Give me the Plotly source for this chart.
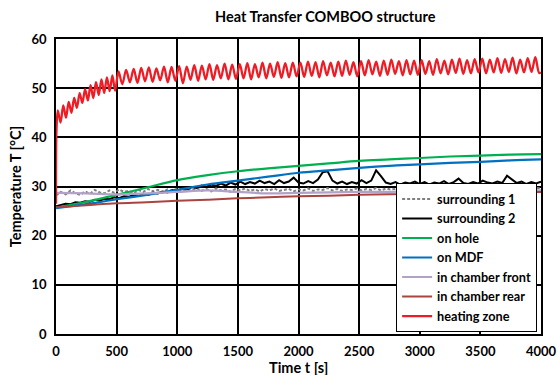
import numpy as np
import plotly.graph_objects as go

# ---------------- data ----------------
# smooth series sampled every 250 s
t_smooth = [0, 250, 500, 750, 1000, 1250, 1500, 1750, 2000, 2250, 2500, 2750, 3000, 3250, 3500, 3750, 4000]
on_hole = [25.7, 26.9, 28.3, 29.8, 31.3, 32.3, 33.1, 33.7, 34.2, 34.7, 35.2, 35.5, 35.8, 36.1, 36.3, 36.5, 36.6]
on_mdf = [25.6, 26.4, 27.4, 28.3, 29.3, 30.4, 31.2, 32.0, 32.8, 33.3, 33.8, 34.2, 34.5, 34.8, 35.0, 35.3, 35.5]
chamber_front = [28.7, 28.6, 28.4, 28.6, 28.9, 29.2, 28.9, 28.6, 28.7, 28.8, 28.9, 28.9, 29.0, 29.0, 29.1, 29.1, 29.2]
chamber_rear = [25.8, 26.2, 26.6, 26.8, 27.1, 27.3, 27.6, 27.8, 28.0, 28.1, 28.3, 28.4, 28.5, 28.6, 28.7, 28.8, 28.9]

# noisy series sampled every 40 s
t_noisy = np.linspace(0, 4000, 101)
surrounding_1 = [
    28.2, 28.9, 28.4, 29.2, 28.6, 28.3, 29.0, 28.5, 29.3, 28.8, 28.6,
    29.2, 28.7, 29.4, 28.9, 29.1, 28.6, 29.3, 28.9, 29.5, 29.0,
    29.3, 28.8, 29.4, 29.1, 29.6, 29.0, 29.4, 29.2, 29.7, 29.1,
    29.5, 29.0, 29.6, 29.2, 29.4, 28.9, 29.5, 29.2, 29.6, 29.1,
    29.4, 29.0, 29.5, 29.2, 29.6, 29.1, 29.3, 29.5, 29.0, 29.4,
    29.2, 29.6, 29.1, 29.4, 29.3, 29.7, 29.2, 29.5, 29.1, 29.4,
    29.3, 29.6, 29.2, 29.5, 29.3, 29.7, 29.2, 29.6, 29.4, 29.5,
    29.3, 29.7, 29.4, 29.6, 29.2, 29.5, 29.4, 29.7, 29.3, 29.6,
    29.4, 29.7, 29.3, 29.6, 29.5, 29.8, 29.4, 29.6, 29.5, 29.7,
    29.4, 29.8, 29.5, 29.7, 29.4, 29.6, 29.8, 29.5, 29.7, 29.6,
]
surrounding_2 = [
    26.0, 26.2, 26.5, 26.4, 26.8, 26.7, 27.0, 26.9, 27.3, 27.1, 27.5,
    27.4, 27.8, 27.6, 28.0, 27.9, 28.3, 28.1, 28.5, 28.3, 28.7,
    28.6, 29.0, 28.8, 29.3, 29.1, 29.6, 29.4, 29.9, 29.7, 30.2,
    29.9, 30.4, 30.1, 30.6, 30.2, 30.8, 30.4, 31.0, 30.5, 30.9,
    30.6, 31.2, 30.7, 31.0, 30.5, 31.3, 30.7, 31.0, 31.8, 30.8,
    30.6, 31.1, 30.7, 31.4, 32.9, 33.1, 31.2, 30.6, 31.0, 30.5,
    30.9, 30.6, 31.3, 30.7, 31.2, 33.3, 32.1, 30.8, 30.5, 30.9,
    30.4, 30.8, 30.6, 31.0, 30.5, 30.9, 30.4, 30.8, 30.6, 31.1,
    30.5, 30.9, 31.6, 30.7, 30.5, 30.9, 30.6, 31.2, 30.8, 30.6,
    31.0, 30.7, 32.2, 31.4, 30.7, 31.0, 30.5, 30.9, 30.6, 31.0,
]

# heating zone: start-up samples, then peak/trough readings
t_heat_early = [0, 4, 15, 37.5, 60, 82.5, 105, 127.5, 150, 172.5, 195, 217.5, 240, 262.5,
                285, 307.5, 330, 352.5, 375, 397.5, 420, 442.5, 465, 487.5]
heat_early = [26.5, 41.5, 45.5, 43.0, 46.5, 44.0, 47.2, 45.0, 48.0, 46.0, 49.0, 47.0, 49.8, 47.5,
              50.6, 48.0, 51.2, 48.6, 51.8, 49.0, 52.2, 49.4, 52.6, 49.5]
heat_peaks = [
    53.4, 53.7, 53.9, 54.1, 54.2, 54.0, 54.4, 54.3,
    54.5, 54.4, 54.7, 54.6, 54.9, 54.7, 55.0, 54.8,
    54.9, 55.1, 54.9, 55.2, 55.0, 55.3, 55.1, 55.2,
    55.2, 55.4, 55.3, 55.5, 55.2, 55.4, 55.6, 55.3,
    55.5, 55.7, 55.4, 55.6, 55.8, 55.5, 55.7, 55.6,
    55.7, 55.5, 55.9, 55.6, 55.8, 56.0, 55.7, 55.9,
    56.0, 55.8, 56.1, 55.9, 56.2, 55.8, 56.1, 56.3,
]
heat_troughs = [
    50.8, 51.2, 51.1, 51.4, 51.3, 51.6, 51.2, 51.5,
    51.0, 51.7, 51.5, 51.8, 51.7, 52.0, 51.8, 51.9,
    52.0, 51.8, 52.2, 52.0, 52.3, 52.1, 52.2, 52.4,
    52.3, 52.5, 52.2, 52.6, 52.4, 52.5, 52.7, 52.4,
    52.6, 52.8, 52.5, 52.7, 52.9, 52.6, 52.8, 52.7,
    52.9, 52.7, 53.0, 52.8, 53.1, 52.9, 53.0, 53.2,
    53.0, 53.2, 53.1, 53.3, 53.0, 53.2, 53.3, 53.1,
]
heat_end = 53.2

x_ticks = [0, 500, 1000, 1500, 2000, 2500, 3000, 3500, 4000]
y_ticks = [0, 10, 20, 30, 40, 50, 60]

# ---------------- build heating series ----------------
late_vals = []
for p, tr in zip(heat_peaks, heat_troughs):
    late_vals += [p, tr]
t_late = 515.625 + 31.25 * np.arange(len(late_vals))
t_heat = list(t_heat_early) + list(t_late) + [4000]
heating = list(heat_early) + late_vals + [heat_end]

FONT = "Lato"
fig = go.Figure()
fig.add_trace(go.Scatter(x=t_noisy, y=surrounding_1, mode="lines", name="<b>surrounding 1</b>",
                         line=dict(color="#7f7f7f", width=2, dash="3px,2px")))
fig.add_trace(go.Scatter(x=t_noisy, y=surrounding_2, mode="lines", name="<b>surrounding 2</b>",
                         line=dict(color="#000000", width=2)))
fig.add_trace(go.Scatter(x=t_smooth, y=on_hole, mode="lines", name="<b>on hole</b>",
                         line=dict(color="#00b050", width=2.2, shape="spline")))
fig.add_trace(go.Scatter(x=t_smooth, y=on_mdf, mode="lines", name="<b>on MDF</b>",
                         line=dict(color="#0070c0", width=2.2, shape="spline")))
fig.add_trace(go.Scatter(x=t_smooth, y=chamber_front, mode="lines", name="<b>in chamber front</b>",
                         line=dict(color="#b3a2c7", width=2.2, shape="spline")))
fig.add_trace(go.Scatter(x=t_smooth, y=chamber_rear, mode="lines", name="<b>in chamber rear</b>",
                         line=dict(color="#a9443f", width=2, shape="spline")))
fig.add_trace(go.Scatter(x=t_heat, y=heating, mode="lines", name="<b>heating zone</b>",
                         line=dict(color="#ee1c25", width=2.3, shape="spline", smoothing=0.9)))

fig.update_layout(
    width=558, height=375,
    margin=dict(l=56, r=17, t=39, b=41, autoexpand=False),
    paper_bgcolor="white", plot_bgcolor="white",
    font=dict(family=FONT, color="#000000", size=12),
    title=dict(text="<b>Heat Transfer COMBOO structure</b>", x=0.555, xref="paper",
               xanchor="center", y=0.955, yanchor="middle", yref="container",
               font=dict(family=FONT, size=14.5, color="#000000")),
    legend=dict(x=0.992, y=0.006, xanchor="right", yanchor="bottom",
                bgcolor="white", bordercolor="#000000", borderwidth=1,
                font=dict(family=FONT, size=12.7, color="#000000"),
                itemwidth=30, tracegroupgap=0, traceorder="normal"),
    showlegend=True,
    annotations=[dict(text="<b>Time t [s]</b>", xref="paper", yref="paper",
                      x=0.5, y=-0.114, xanchor="center", yanchor="middle",
                      showarrow=False, font=dict(family=FONT, size=14.5, color="#000000"))],
)
fig.update_xaxes(range=[0, 4000], tickvals=x_ticks, automargin=False,
                 ticktext=[f"<b>{v}</b>" for v in x_ticks],
                 showgrid=True, gridcolor="#000000", gridwidth=1.5,
                 showline=True, linecolor="#000000", linewidth=1.5, mirror=True,
                 ticks="outside", ticklen=5, tickcolor="rgba(0,0,0,0)", tickwidth=1,
                 zeroline=False,
                 tickfont=dict(family=FONT, size=13))
fig.update_yaxes(range=[0, 60], tickvals=y_ticks, automargin=False,
                 ticktext=[f"<b>{v}</b>" for v in y_ticks],
                 showgrid=True, gridcolor="#000000", gridwidth=1.5,
                 showline=True, linecolor="#000000", linewidth=1.5, mirror=True,
                 ticks="outside", ticklen=5, tickcolor="rgba(0,0,0,0)", tickwidth=1,
                 zeroline=False,
                 title=dict(text="<b>Temperature T [°C]</b>", standoff=6,
                            font=dict(family=FONT, size=14.5)),
                 tickfont=dict(family=FONT, size=13))

fig.write_html("out.html")
